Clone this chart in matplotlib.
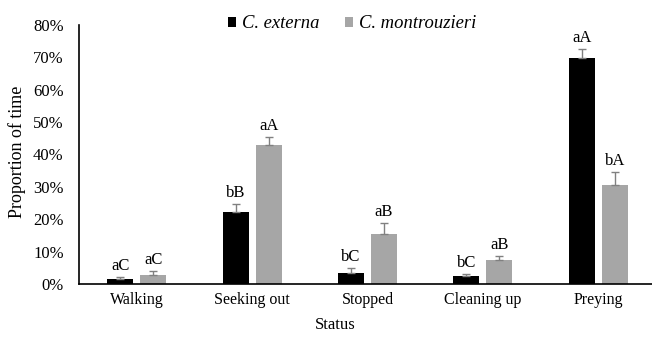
import numpy as np
import matplotlib
matplotlib.use('Agg')
import matplotlib.pyplot as plt

# Data (proportion of time, %)
status = ['Walking', 'Seeking out', 'Stopped', 'Cleaning up', 'Preying']
externa = [1.4, 22.1, 3.4, 2.4, 69.8]
externa_err = [0.9, 2.5, 1.5, 0.8, 2.9]
montrouzieri = [2.7, 42.9, 15.4, 7.4, 30.6]
montrouzieri_err = [1.2, 2.4, 3.4, 1.4, 3.9]
externa_letters = ['aC', 'bB', 'bC', 'bC', 'aA']
montrouzieri_letters = ['aC', 'aA', 'aB', 'aB', 'bA']

plt.rcParams['font.family'] = ['Liberation Serif', 'DejaVu Serif']

fig = plt.figure(figsize=(6.52, 3.38), dpi=100)
# axes spans x 79..656 px, y 25..284 px
ax = fig.add_axes([79 / 652, 1 - 284 / 338, 577 / 652, 259 / 338])

x = np.arange(len(status))
bar_width = 0.225
offset = 0.143
err_kw = dict(ecolor='#808080', elinewidth=1.0, capsize=3, capthick=1.0)

ax.bar(x - offset, externa, width=bar_width, color='black', label='C. externa',
       yerr=[np.zeros(len(x)), externa_err], error_kw=err_kw)
ax.bar(x + offset, montrouzieri, width=bar_width, color='#a6a6a6', label='C. montrouzieri',
       yerr=[np.zeros(len(x)), montrouzieri_err], error_kw=err_kw)

# significance letters above error bars
for i in range(len(x)):
    ax.text(x[i] - offset, externa[i] + externa_err[i] + 0.9, externa_letters[i],
            ha='center', va='bottom', fontsize=12)
    ax.text(x[i] + offset, montrouzieri[i] + montrouzieri_err[i] + 0.9, montrouzieri_letters[i],
            ha='center', va='bottom', fontsize=12)

ax.set_xlim(-0.5, len(x) - 0.5)
ax.set_ylim(0, 80)
ax.set_yticks(np.arange(0, 81, 10))
ax.set_yticklabels([f'{v}%' for v in range(0, 81, 10)], fontsize=12)
ax.set_xticks(x)
ax.set_xticklabels(status, fontsize=11.5)
ax.tick_params(axis='y', length=0, pad=11)
ax.tick_params(axis='x', length=0, pad=6)
ax.spines['top'].set_visible(False)
ax.spines['right'].set_visible(False)
ax.spines['left'].set_linewidth(1.2)
ax.spines['bottom'].set_linewidth(1.2)

fig.text(17 / 652, 1 - 152 / 338, 'Proportion of time', rotation=90,
         ha='center', va='center', fontsize=13)
fig.text(335 / 652, 1 - 325 / 338, 'Status', ha='center', va='center', fontsize=12)

leg = fig.legend(loc='center', bbox_to_anchor=(352 / 652, 1 - 24 / 338), ncol=2,
                 frameon=False, prop={'style': 'italic', 'size': 13.4},
                 handlelength=0.45, handleheight=0.45, handletextpad=0.3, columnspacing=1.35)

fig.savefig('out.png', dpi=100)
